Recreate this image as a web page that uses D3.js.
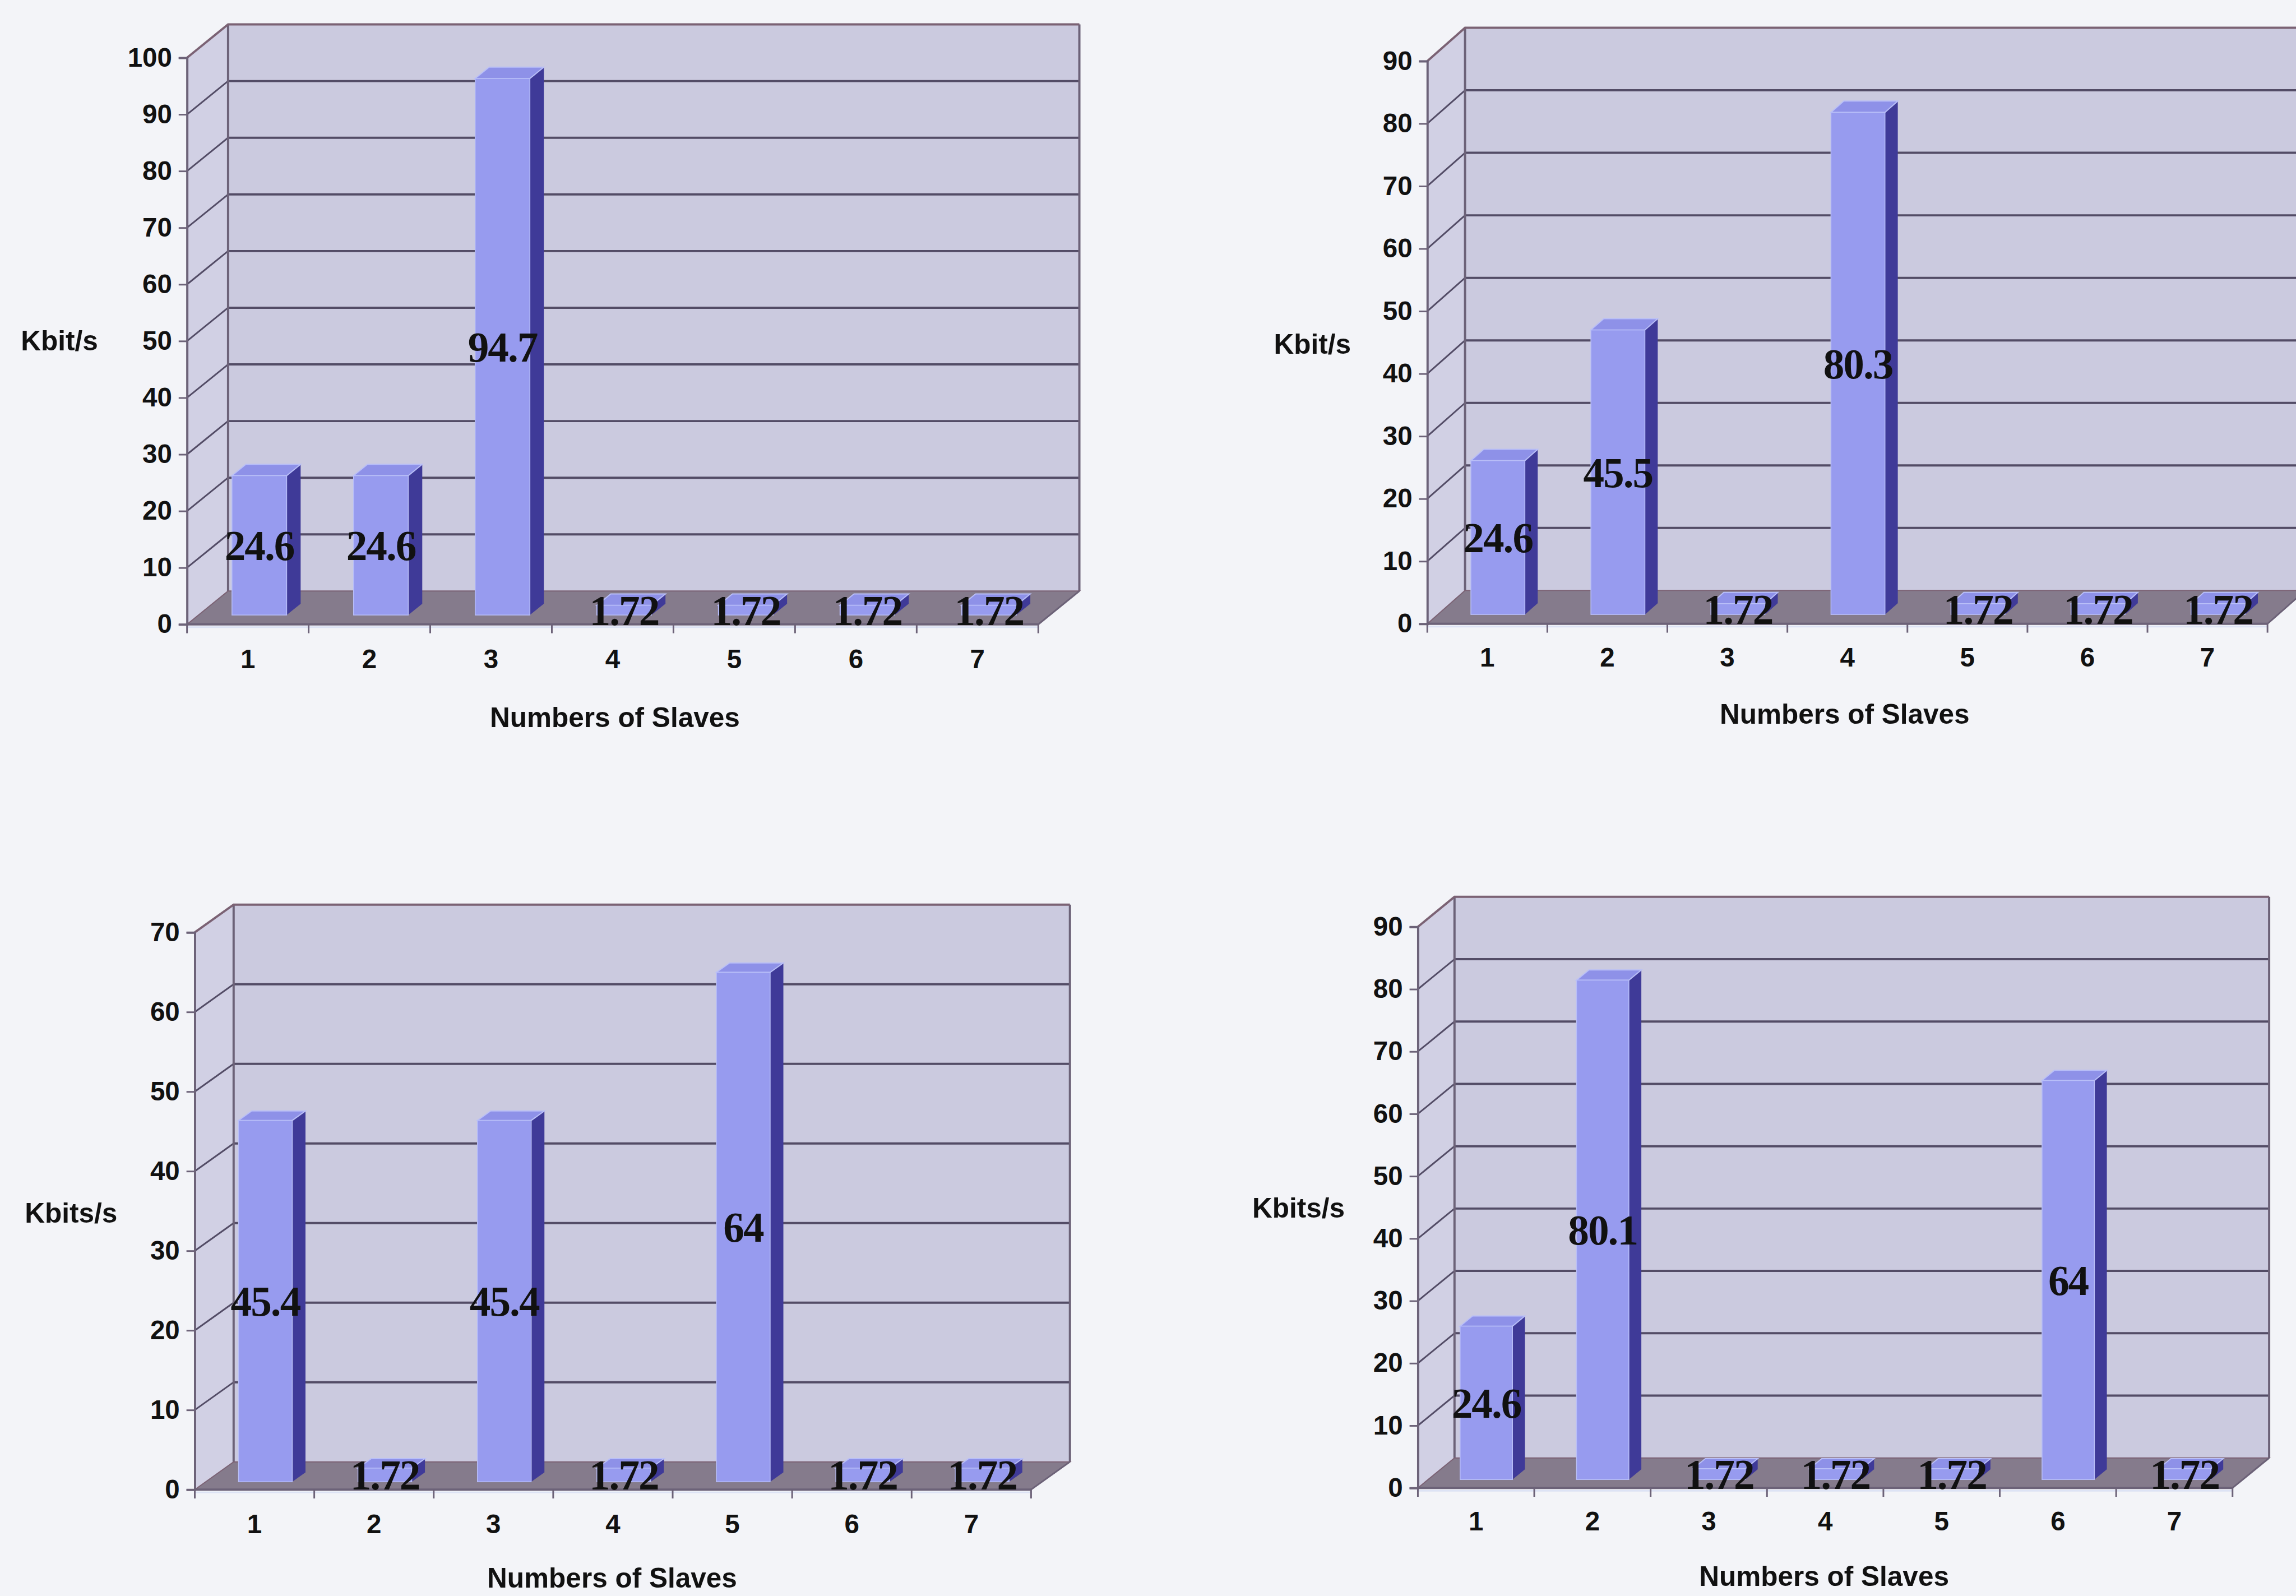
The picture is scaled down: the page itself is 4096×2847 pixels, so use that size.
<!DOCTYPE html>
<html>
<head>
<meta charset="utf-8">
<script src="https://cdn.jsdelivr.net/npm/d3@7"></script>
<style>
  html, body { margin: 0; padding: 0; background: #f3f4f8; }
  svg { display: block; }
</style>
</head>
<body>
<svg id="chart" width="4096" height="2847"></svg>
<script>
// Categories shared by all four charts
const slaves = ["1", "2", "3", "4", "5", "6", "7"];

// Throughput per slave for each scenario
const rateA = [24.6, 24.6, 94.7, 1.72, 1.72, 1.72, 1.72];
const rateB = [24.6, 45.5, 1.72, 80.3, 1.72, 1.72, 1.72];
const rateC = [45.4, 1.72, 45.4, 1.72, 64, 1.72, 1.72];
const rateD = [24.6, 80.1, 1.72, 1.72, 1.72, 64, 1.72];

// Value-axis tick labels
const ticksA = [0, 10, 20, 30, 40, 50, 60, 70, 80, 90, 100];
const ticksB = [0, 10, 20, 30, 40, 50, 60, 70, 80, 90];
const ticksC = [0, 10, 20, 30, 40, 50, 60, 70];
const ticksD = [0, 10, 20, 30, 40, 50, 60, 70, 80, 90];

// Axis titles
const unitsA = "Kbit/s";
const unitsB = "Kbit/s";
const unitsC = "Kbits/s";
const unitsD = "Kbits/s";
const xTitle = "Numbers of Slaves";

// Layout of each 3D chart (front plane box, depth offset, label anchors)
const panels = [
  { values: rateA, ticks: ticksA, units: unitsA,
    x0: 337, x1: 1871, y0: 1125, yTop: 104, dx: 74, dy: 60,
    unitX: 107, unitY: 614, catY: 1187, titleX: 1108, titleY: 1293 },
  { values: rateB, ticks: ticksB, units: unitsB,
    x0: 2572, x1: 4086, y0: 1124, yTop: 110, dx: 68, dy: 60,
    unitX: 2365, unitY: 620, catY: 1184, titleX: 3324, titleY: 1287 },
  { values: rateC, ticks: ticksC, units: unitsC,
    x0: 351, x1: 1858, y0: 2684, yTop: 1680, dx: 70, dy: 50,
    unitX: 128, unitY: 2186, catY: 2746, titleX: 1103, titleY: 2843 },
  { values: rateD, ticks: ticksD, units: unitsD,
    x0: 2555, x1: 4023, y0: 2681, yTop: 1670, dx: 66, dy: 54,
    unitX: 2340, unitY: 2176, catY: 2741, titleX: 3287, titleY: 2840 }
];

const S = 0.99;
const col = {
  wallBack: "#cbcadf",
  wallSide: "#d1d0e4",
  grid: "#534c66",
  border: "#6c6278",
  borderTop: "#7b6274",
  floor: "#857b8c",
  barFront: "#979bef",
  barTop: "#8e91e8",
  barSide: "#3f3a98",
  barEdge: "#b9bff8",
  text: "#111111"
};

const svg = d3.select("#chart");
svg.append("rect").attr("width", 4096).attr("height", 2847).attr("fill", "#f3f4f8");
const root = svg.append("g").attr("transform", `scale(${S})`);

const pts = a => a.map(p => p.join(",")).join(" ");

panels.forEach(p => {
  const g = root.append("g");
  const vmax = p.ticks[p.ticks.length - 1];
  const x = d3.scaleBand().domain(slaves).range([p.x0, p.x1]).paddingInner(0).paddingOuter(0);
  const y = d3.scaleLinear().domain([0, vmax]).range([p.y0, p.yTop]);
  const dx = p.dx, dy = p.dy;

  // side wall (left)
  g.append("polygon")
    .attr("points", pts([[p.x0, y(0)], [p.x0, y(vmax)], [p.x0 + dx, y(vmax) - dy], [p.x0 + dx, y(0) - dy]]))
    .attr("fill", col.wallSide);
  // back wall
  g.append("rect")
    .attr("x", p.x0 + dx).attr("y", y(vmax) - dy)
    .attr("width", p.x1 - p.x0).attr("height", y(0) - y(vmax))
    .attr("fill", col.wallBack);

  // gridlines on side and back walls
  const inner = p.ticks.filter(t => t > 0 && t < vmax);
  g.selectAll("line.gs").data(inner).join("line")
    .attr("x1", p.x0).attr("y1", d => y(d))
    .attr("x2", p.x0 + dx).attr("y2", d => y(d) - dy)
    .attr("stroke", col.grid).attr("stroke-width", 3);
  g.selectAll("line.gb").data(inner).join("line")
    .attr("x1", p.x0 + dx).attr("y1", d => y(d) - dy)
    .attr("x2", p.x1 + dx).attr("y2", d => y(d) - dy)
    .attr("stroke", col.grid).attr("stroke-width", 4);

  // wall outlines
  g.append("line")
    .attr("x1", p.x0 + dx).attr("y1", y(vmax) - dy).attr("x2", p.x0 + dx).attr("y2", y(0) - dy)
    .attr("stroke", col.border).attr("stroke-width", 4);
  g.append("line")
    .attr("x1", p.x1 + dx).attr("y1", y(vmax) - dy).attr("x2", p.x1 + dx).attr("y2", y(0) - dy)
    .attr("stroke", col.border).attr("stroke-width", 4);
  g.append("polyline")
    .attr("points", pts([[p.x0, y(vmax)], [p.x0 + dx, y(vmax) - dy], [p.x1 + dx, y(vmax) - dy]]))
    .attr("fill", "none").attr("stroke", col.borderTop).attr("stroke-width", 4);

  // floor
  g.append("polygon")
    .attr("points", pts([[p.x0, y(0)], [p.x1, y(0)], [p.x1 + dx, y(0) - dy], [p.x0 + dx, y(0) - dy]]))
    .attr("fill", col.floor).attr("stroke", col.borderTop).attr("stroke-width", 2);

  // bars
  const step = x.bandwidth();
  const w = step * 0.45;
  const tF = 0.28, tB = 0.62;
  const fx = tF * dx, fy = -tF * dy, bx = tB * dx, by = -tB * dy;
  const bars = g.selectAll("g.bar").data(slaves.map((s, i) => ({ s, v: p.values[i] }))).join("g");
  bars.each(function (d) {
    const b = d3.select(this);
    const left = x(d.s) + (step - w) / 2;
    const yt = y(d.v), yb = y(0);
    // right side face
    b.append("polygon")
      .attr("points", pts([[left + w + fx, yt + fy], [left + w + bx, yt + by], [left + w + bx, yb + by], [left + w + fx, yb + fy]]))
      .attr("fill", col.barSide);
    // top face
    b.append("polygon")
      .attr("points", pts([[left + fx, yt + fy], [left + w + fx, yt + fy], [left + w + bx, yt + by], [left + bx, yt + by]]))
      .attr("fill", col.barTop).attr("stroke", col.barEdge).attr("stroke-width", 2);
    // front face
    b.append("rect")
      .attr("x", left + fx).attr("y", yt + fy)
      .attr("width", w).attr("height", yb - yt)
      .attr("fill", col.barFront).attr("stroke", col.barEdge).attr("stroke-width", 1.5);
  });

  // value axis line with ticks and labels
  const yAxis = d3.axisLeft(y).tickValues(p.ticks).tickSize(15).tickPadding(12).tickFormat(d3.format("d"));
  const ya = g.append("g").attr("transform", `translate(${p.x0},0)`).call(yAxis);
  ya.select(".domain").attr("stroke", col.border).attr("stroke-width", 4);
  ya.selectAll(".tick line").attr("stroke", col.border).attr("stroke-width", 3);
  ya.selectAll(".tick text")
    .attr("font-family", "'Liberation Sans', Arial, sans-serif")
    .attr("font-weight", "bold").attr("font-size", 48).attr("fill", col.text);

  // category axis: front floor edge, boundary ticks and labels
  g.append("line")
    .attr("x1", p.x0).attr("y1", y(0)).attr("x2", p.x1).attr("y2", y(0))
    .attr("stroke", col.border).attr("stroke-width", 4);
  g.append("line")
    .attr("x1", p.x1).attr("y1", y(0)).attr("x2", p.x1 + dx).attr("y2", y(0) - dy)
    .attr("stroke", col.border).attr("stroke-width", 3);
  g.append("line")
    .attr("x1", p.x0).attr("y1", y(0) + 5).attr("x2", p.x1).attr("y2", y(0) + 5)
    .attr("stroke", "#dde3f5").attr("stroke-width", 3);
  const bounds = slaves.map(s => x(s)).concat([p.x1]);
  g.selectAll("line.xt").data(bounds).join("line")
    .attr("x1", d => d).attr("x2", d => d)
    .attr("y1", y(0)).attr("y2", y(0) + 16)
    .attr("stroke", col.border).attr("stroke-width", 3);
  const xAxis = d3.axisBottom(x).tickSize(0).tickPadding(0);
  const xa = g.append("g").attr("transform", `translate(0,${p.catY})`).call(xAxis);
  xa.select(".domain").remove();
  xa.selectAll(".tick text")
    .attr("dy", "0.35em").attr("y", 0)
    .attr("font-family", "'Liberation Sans', Arial, sans-serif")
    .attr("font-weight", "bold").attr("font-size", 48).attr("fill", col.text);

  // axis titles
  g.append("text")
    .attr("x", p.unitX).attr("y", p.unitY).attr("dy", "0.35em")
    .attr("text-anchor", "middle")
    .attr("font-family", "'Liberation Sans', Arial, sans-serif")
    .attr("font-weight", "bold").attr("font-size", 50).attr("fill", col.text)
    .text(p.units);
  g.append("text")
    .attr("x", p.titleX).attr("y", p.titleY).attr("dy", "0.35em")
    .attr("text-anchor", "middle")
    .attr("font-family", "'Liberation Sans', Arial, sans-serif")
    .attr("font-weight", "bold").attr("font-size", 50).attr("fill", col.text)
    .text(xTitle);

  // data labels, centred on each bar's front face
  g.selectAll("text.val").data(slaves.map((s, i) => ({ s, v: p.values[i] }))).join("text")
    .attr("x", d => x(d.s) + step / 2 + fx)
    .attr("y", d => y(d.v / 2) + fy)
    .attr("dy", "0.35em")
    .attr("text-anchor", "middle")
    .attr("font-family", "'Liberation Serif', 'Times New Roman', serif")
    .attr("font-weight", "bold").attr("font-size", 76)
    .attr("letter-spacing", -2)
    .attr("fill", col.text)
    .text(d => String(d.v));
});
</script>
</body>
</html>
